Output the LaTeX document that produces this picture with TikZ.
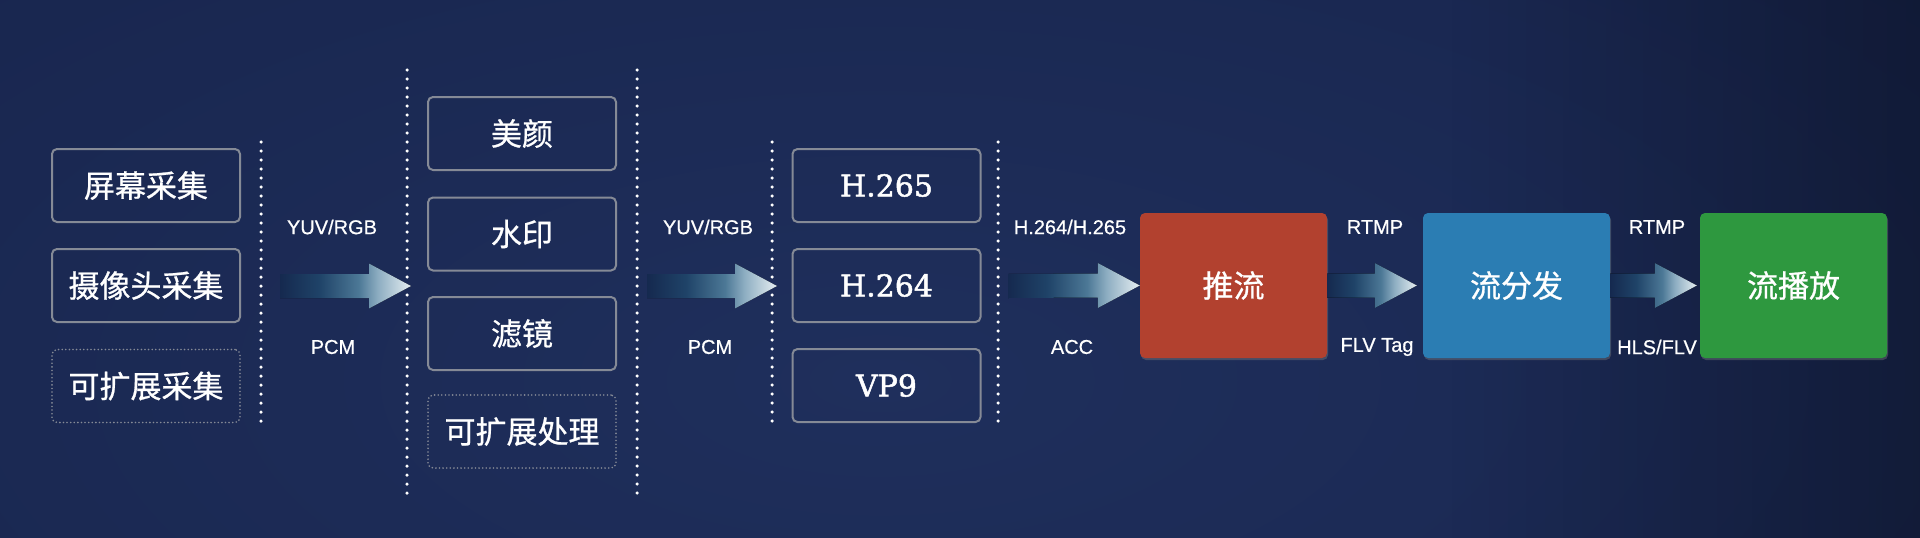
\documentclass[tikz,border=0pt]{standalone}
\usepackage{fontspec}
\setmainfont{Liberation Sans}
\newfontfamily\tagfont[FakeBold=0.6]{Liberation Sans}
\newfontfamily\cjkfont[FakeBold=0.8]{Noto Sans CJK SC}
\newfontfamily\codecfont[FakeBold=1.6]{DejaVu Serif}
\usepackage{xcolor}
\usepackage{tikz}
\usetikzlibrary{calc,shadows,fadings}

\definecolor{bgin}{HTML}{1F2F5C}
\definecolor{bgout}{HTML}{0B1333}
\definecolor{boxline}{HTML}{858A96}
\definecolor{pushred}{HTML}{B2412F}
\definecolor{distblue}{HTML}{2B7DB3}
\definecolor{playgreen}{HTML}{2E983F}
\definecolor{arrowdark}{HTML}{15294F}
\definecolor{arrowblue}{HTML}{1F4368}
\definecolor{arrowmid}{HTML}{4C7896}
\definecolor{arrowpale}{HTML}{8EAEC2}
\definecolor{arrowlight}{HTML}{E6EEF2}

\tikzfading[name=fadein, left color=transparent!100, right color=transparent!0]
\pgfdeclarehorizontalshading{arrowfade}{100bp}{color(0bp)=(arrowdark); color(25bp)=(arrowdark);
  color(40bp)=(arrowblue); color(55bp)=(arrowmid); color(62.5bp)=(arrowpale);
  color(75bp)=(arrowlight); color(100bp)=(arrowlight)}

% block arrow from #1 to #2
\newcommand{\flowarrow}[2]{%
  \fill[arrowshade] ($(#1)+(0,-12)$) -- ($(#2)+(-42,-12)$) -- ($(#2)+(-42,-22.5)$)
    -- (#2) -- ($(#2)+(-42,22.5)$) -- ($(#2)+(-42,12)$) -- ($(#1)+(0,12)$) -- cycle;}

\begin{document}
\begin{tikzpicture}[x=1pt,y=-1pt,
  capbox/.style={draw=boxline, line width=2pt, rounded corners=5pt, minimum width=188pt,
    minimum height=73pt, text=white, font=\cjkfont\fontsize{31}{36}\selectfont},
  dotbox/.style={capbox, line width=1.8pt, line cap=round, dash pattern=on 0pt off 3.6pt},
  codec/.style={capbox, font=\codecfont\fontsize{30}{36}\selectfont},
  block/.style={rounded corners=5pt, minimum width=187pt, minimum height=145pt, text=white,
    font=\cjkfont\fontsize{31}{36}\selectfont,
    drop shadow={shadow xshift=1pt, shadow yshift=-2pt, opacity=0.4}},
  tag/.style={text=white, font=\tagfont\fontsize{20}{24}\selectfont},
  sepline/.style={white, line width=3.5pt, line cap=round, dash pattern=on 0pt off 9pt},
  arrowshade/.style={shading=arrowfade}]
% Background
\fill[bgout] (0,0) rectangle (1920,538);
\begin{scope}
  \clip (0,0) rectangle (1920,538);
  \shade[inner color=bgin, outer color=bgout] (880,380) ellipse (4000 and 1800);
  \fill[black, opacity=0.3, path fading=fadein] (1450,0) rectangle (1920,538);
\end{scope}
\useasboundingbox (0,0) rectangle (1920,538);
% Capture
\node[capbox] (cap1) at (146,185.5) {屏幕采集};
\node[capbox] (cap2) at (146,285.5) {摄像头采集};
\node[dotbox] (cap3) at (146,386) {可扩展采集};
% Effects
\node[capbox] (fx1) at (522,133.5) {美颜};
\node[capbox] (fx2) at (522,234) {水印};
\node[capbox] (fx3) at (522,333.5) {滤镜};
\node[dotbox] (fx4) at (522,431.5) {可扩展处理};
% Encoders
\node[codec] (enc1) at (886.5,185.5) {H.265};
\node[codec] (enc2) at (886.5,285.5) {H.264};
\node[codec] (enc3) at (886.5,385.5) {VP9};
% Stream
\node[block, fill=pushred] (push) at (1233.5,285.5) {推流};
\node[block, fill=distblue] (dist) at (1516.5,285.5) {流分发};
\node[block, fill=playgreen] (play) at (1793.5,285.5) {流播放};
% Separators
\draw[sepline] (261,142) -- (261,425);
\draw[sepline] (407,70) -- (407,493);
\draw[sepline] (637,70) -- (637,493);
\draw[sepline] (772,142) -- (772,425);
\draw[sepline] (998,142) -- (998,425);
% Arrows
\coordinate (a1s) at (280,286);
\coordinate (a1e) at (411,286);
\coordinate (a2s) at (647,286);
\coordinate (a2e) at (777,286);
\coordinate (a3s) at (1008,286);
\coordinate (a4e) at ($(dist.west)+(-6,0)$);
\coordinate (a5e) at ($(play.west)+(-3,0)$);
\flowarrow{a1s}{a1e}
\flowarrow{a2s}{a2e}
\flowarrow{a3s}{push.west}
\flowarrow{push.east}{a4e}
\flowarrow{dist.east}{a5e}
% Labels
\node[tag] (t1a) at (332,227) {YUV/RGB};
\node[tag] (t1b) at (333,347) {PCM};
\node[tag] (t2a) at (708,227) {YUV/RGB};
\node[tag] (t2b) at (710,347) {PCM};
\node[tag] (t3a) at (1070,227) {H.264/H.265};
\node[tag] (t3b) at (1072,347) {ACC};
\node[tag] (t4a) at (1375,227) {RTMP};
\node[tag] (t4b) at (1377,347) {FLV Tag};
\node[tag] (t5a) at (1657,227) {RTMP};
\node[tag] (t5b) at (1657,347) {HLS/FLV};
\end{tikzpicture}
\end{document}
